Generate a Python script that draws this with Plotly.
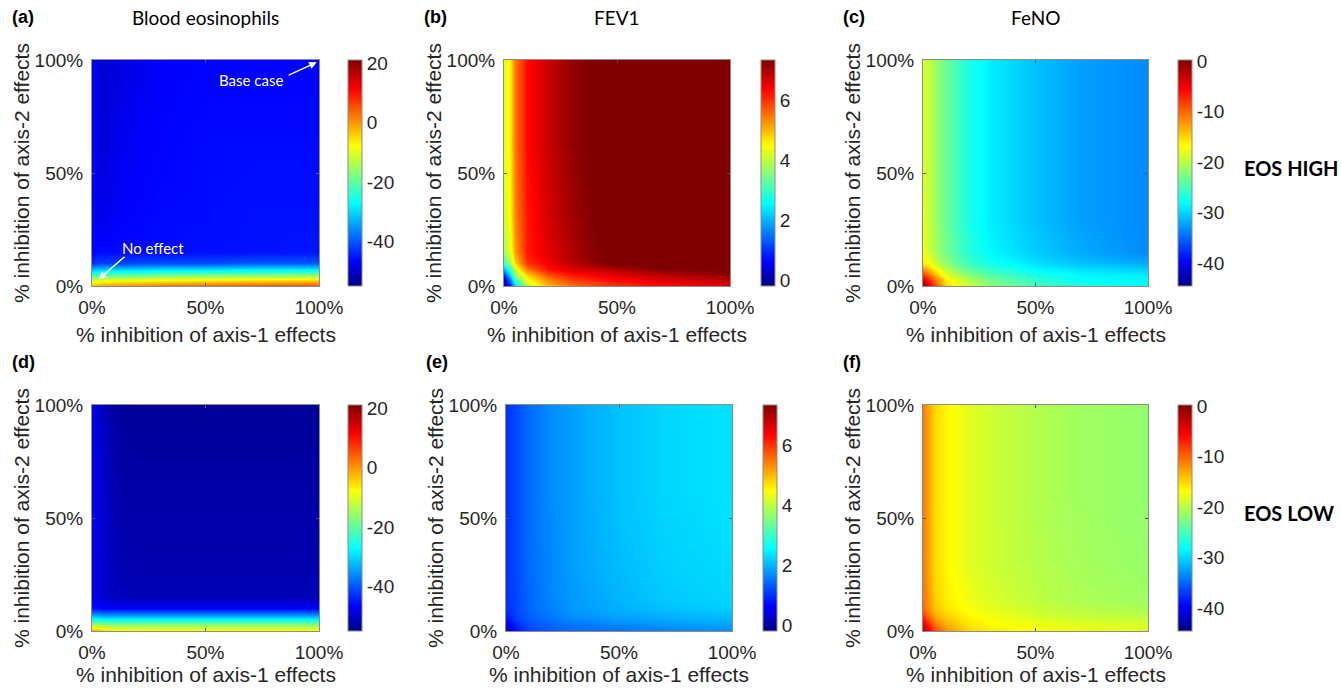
import plotly.graph_objects as go

# ---------------- data ----------------
axis1_pct = [0, 2.5, 5, 10, 20, 30, 50, 70, 100]      # x: % inhibition of axis-1 effects
axis2_pct = [0, 2.5, 5, 7.5, 10, 15, 30, 60, 100]     # y: % inhibition of axis-2 effects
tick_vals = [0, 50, 100]
tick_text = ["0%", "50%", "100%"]

eos_high_blood = [
    [-2, -1, 0, 1, 2, 3, 4, 5, 6],
    [-12, -11, -10, -10, -9, -8, -7, -6, -5],
    [-22, -21, -21, -20, -20, -19, -18, -18, -17],
    [-33, -32, -32, -31, -31, -30, -30, -29, -29],
    [-43, -42, -42, -42, -41, -41, -41, -40, -40],
    [-47, -46, -46, -46, -46, -46, -45.5, -45.5, -45],
    [-47, -48, -48, -47, -46.5, -46, -46, -45.5, -45.5],
    [-47, -48.5, -49, -48, -47, -46.5, -46, -46, -46],
    [-47, -49, -49.5, -49, -48, -47, -46.5, -46.5, -46.5],
]
eos_high_fev1 = [
    [0.0, 0.8, 2.2, 4.0, 5.0, 5.5, 6.0, 6.3, 6.6],
    [0.4, 1.5, 3.0, 4.4, 5.4, 5.9, 6.3, 6.6, 6.9],
    [1.0, 2.3, 3.6, 4.8, 5.8, 6.2, 6.6, 6.9, 7.2],
    [2.0, 3.0, 4.2, 5.5, 6.3, 6.6, 7.0, 7.3, 7.5],
    [3.0, 3.8, 4.8, 6.0, 6.5, 6.9, 7.5, 7.6, 7.6],
    [3.8, 4.3, 5.2, 6.2, 6.6, 7.0, 7.6, 7.6, 7.6],
    [4.1, 4.5, 5.4, 6.2, 6.7, 7.1, 7.6, 7.6, 7.6],
    [4.2, 4.6, 5.5, 6.3, 6.8, 7.2, 7.6, 7.6, 7.6],
    [4.2, 4.6, 5.5, 6.3, 6.8, 7.2, 7.6, 7.6, 7.6],
]
eos_high_feno = [
    [-1, -4, -8, -15, -19, -22, -25, -27, -28],
    [-4, -7, -10, -16, -20, -23, -26, -28, -28.5],
    [-8, -10, -13, -18, -22, -24.5, -27, -28.5, -29],
    [-12, -14, -16, -20, -24, -26, -28.5, -29.5, -30.5],
    [-16, -17, -19, -22, -25.5, -27.5, -29.5, -31, -32],
    [-17.5, -19, -20.5, -23, -26.5, -28.5, -30.5, -32, -33.5],
    [-18, -19.5, -21, -23.5, -27, -29, -31, -32.5, -33.5],
    [-18.5, -19.5, -21, -23.5, -27, -29, -31, -32.5, -33.5],
    [-18.5, -19.5, -21, -23.5, -27, -29, -31, -32.5, -33.5],
]
eos_low_blood = [
    [0, -2, -4, -6, -7, -7, -7, -7, -7],
    [-13, -14, -15, -16, -16, -16, -16, -16, -16],
    [-25, -25, -26, -26, -26, -26, -26, -26, -26],
    [-36, -36, -37, -37, -37, -37, -37, -37, -37],
    [-46, -46, -47, -47, -47, -47, -47, -47, -47],
    [-48, -49, -50, -51, -51.5, -51.5, -51.5, -51.5, -51.5],
    [-48, -49, -50, -51.5, -52, -52, -52, -52, -52],
    [-48, -49, -50, -52, -52.5, -52.5, -52.5, -52.5, -52.5],
    [-48, -49.5, -51, -53, -53.5, -53.5, -53.5, -53.5, -53.5],
]
eos_low_fev1 = [
    [0.1, 0.5, 0.8, 1.1, 1.3, 1.4, 1.5, 1.6, 1.7],
    [0.4, 0.7, 0.95, 1.2, 1.4, 1.5, 1.65, 1.75, 1.85],
    [0.7, 0.9, 1.1, 1.3, 1.5, 1.65, 1.8, 1.9, 2.0],
    [0.9, 1.0, 1.15, 1.35, 1.55, 1.75, 1.9, 2.0, 2.1],
    [1.0, 1.05, 1.2, 1.4, 1.6, 1.8, 1.95, 2.1, 2.2],
    [1.0, 1.1, 1.2, 1.4, 1.65, 1.8, 2.0, 2.15, 2.25],
    [1.0, 1.1, 1.2, 1.45, 1.65, 1.85, 2.05, 2.2, 2.3],
    [1.0, 1.1, 1.2, 1.45, 1.7, 1.85, 2.1, 2.25, 2.35],
    [1.0, 1.1, 1.2, 1.45, 1.7, 1.85, 2.1, 2.25, 2.35],
]
eos_low_feno = [
    [-2, -5, -8, -12, -15, -16, -17, -17.5, -18],
    [-4, -7, -10, -13, -15.5, -16.5, -17.5, -18, -18.5],
    [-6, -9, -11.5, -14, -16, -17, -18, -18.8, -19.3],
    [-8.5, -11, -13, -15, -16.5, -17.5, -18.7, -19.5, -20],
    [-10, -12, -14, -15.7, -17, -18, -19.2, -20, -20.7],
    [-10.5, -12.5, -14.5, -16, -17.5, -18.5, -19.7, -20.5, -21.2],
    [-11, -13, -15, -16.5, -18, -19, -20, -20.8, -21.5],
    [-11, -13, -15, -16.5, -18, -19, -20.2, -21, -21.7],
    [-11, -13, -15, -16.5, -18, -19, -20.2, -21, -21.7],
]

blood_range = [-55, 21]
blood_ticks = [-40, -20, 0, 20]
fev1_range = [-0.2, 7.35]
fev1_ticks = [0, 2, 4, 6]
feno_range = [-44.6, 0.3]
feno_ticks = [-40, -30, -20, -10, 0]

panel_titles = ["Blood eosinophils", "FEV1", "FeNO"]
panel_letters = ["(a)", "(b)", "(c)", "(d)", "(e)", "(f)"]
row_labels = ["EOS HIGH", "EOS LOW"]
x_title = "% inhibition of axis-1 effects"
y_title = "% inhibition of axis-2 effects"

# ---------------- layout helpers ----------------
W, H = 1341, 688
def px(x):
    return x / W
def py(y):
    return 1 - y / H

jet = [[0.0, "rgb(0,0,131)"], [0.11, "rgb(0,0,255)"], [0.365, "rgb(0,255,255)"],
       [0.62, "rgb(255,255,0)"], [0.87, "rgb(255,0,0)"], [1.0, "rgb(128,0,0)"]]

rows = [(60, 286), (405, 631)]
cols_row = [
    [(92, 319), (504, 730), (923, 1148)],
    [(92, 319), (506, 732), (923, 1148)],
]
cbar_left = [[348, 761, 1178], [348, 763, 1178]]

panels = [
    [(eos_high_blood, blood_range, blood_ticks), (eos_high_fev1, fev1_range, fev1_ticks), (eos_high_feno, feno_range, feno_ticks)],
    [(eos_low_blood, blood_range, blood_ticks), (eos_low_fev1, fev1_range, fev1_ticks), (eos_low_feno, feno_range, feno_ticks)],
]

TXT = "#262626"
AX_FONT = dict(family="Liberation Sans, Arial, sans-serif", size=19, color=TXT)

fig = go.Figure()
layout = dict(width=W, height=H, margin=dict(l=0, r=0, t=0, b=0, pad=0, autoexpand=False),
              template="none",
              paper_bgcolor="white", plot_bgcolor="white", showlegend=False)
annotations = []

k = 0
for r in range(2):
    top, bot = rows[r]
    for c in range(3):
        k += 1
        left, right = cols_row[r][c]
        z, zr, zt = panels[r][c]
        xa = "x" if k == 1 else f"x{k}"
        ya = "y" if k == 1 else f"y{k}"
        fig.add_trace(go.Heatmap(
            x=axis1_pct, y=axis2_pct, z=z, zsmooth="best",
            colorscale=jet, zmin=zr[0], zmax=zr[1],
            xaxis=xa, yaxis=ya,
            colorbar=dict(
                x=px(cbar_left[r][c]), xanchor="left", xpad=0,
                y=py((top + bot) / 2), yanchor="middle", ypad=0,
                len=(bot - top) / H, lenmode="fraction", thickness=14,
                outlinewidth=1, outlinecolor="#8c8c8c",
                tickvals=zt, ticktext=[str(v) for v in zt],
                ticks="", tickfont=AX_FONT,
            ),
        ))
        axx = dict(domain=[px(left), px(right)], range=[0, 100], anchor=ya,
                   tickvals=tick_vals, ticktext=tick_text, tickfont=AX_FONT,
                   ticks="inside", ticklen=3, tickcolor="#555", showgrid=False,
                   zeroline=False, showline=True, linecolor="#8c8c8c", linewidth=1,
                   mirror="ticks", ticklabelstandoff=4, automargin=False)
        axy = dict(domain=[py(bot), py(top)], range=[0, 100], anchor=xa,
                   tickvals=tick_vals, ticktext=tick_text, tickfont=AX_FONT,
                   ticks="inside", ticklen=3, tickcolor="#555", showgrid=False,
                   zeroline=False, showline=True, linecolor="#8c8c8c", linewidth=1,
                   mirror="ticks", ticklabelstandoff=4, automargin=False)
        layout["xaxis" if k == 1 else f"xaxis{k}"] = axx
        layout["yaxis" if k == 1 else f"yaxis{k}"] = axy

        # axis titles
        if r == 0:
            xt = dict(y=py(bot + 48), yanchor="middle")
        else:
            xt = dict(y=0, yanchor="bottom")
        annotations.append(dict(text=x_title, xref="paper", yref="paper",
                                x=px((left + right) / 2), showarrow=False,
                                xanchor="center", **xt,
                                font=dict(family="Liberation Sans, Arial, sans-serif", size=21, color=TXT)))
        annotations.append(dict(text=y_title, xref="paper", yref="paper", textangle=-90,
                                x=px(left - 71), y=py((top + bot) / 2), showarrow=False,
                                xanchor="center", yanchor="middle",
                                font=dict(family="Liberation Sans, Arial, sans-serif", size=21, color=TXT)))
        # panel letter
        annotations.append(dict(text="<b>" + panel_letters[k - 1] + "</b>", xref="paper", yref="paper",
                                x=px(left - 82), y=py(top - 43), showarrow=False,
                                xanchor="left", yanchor="middle",
                                font=dict(family="Liberation Sans, Arial, sans-serif", size=18, color="black")))
        if r == 0:
            annotations.append(dict(text=panel_titles[c], xref="paper", yref="paper",
                                    x=px((left + right) / 2), y=py(top - 43), showarrow=False,
                                    xanchor="center", yanchor="middle",
                                    font=dict(family="Lato, Open Sans, sans-serif", size=19, color="black")))
    annotations.append(dict(text="<b>" + row_labels[r] + "</b>", xref="paper", yref="paper",
                            x=px(1242), y=py((top + bot) / 2 - 5), showarrow=False,
                            xanchor="left", yanchor="middle",
                            font=dict(family="Lato, Open Sans, sans-serif", size=20, color="black")))

# in-plot labels of panel (a)
WHITE_FONT = dict(family="Lato, Open Sans, sans-serif", size=15, color="white")
annotations += [
    dict(text="Base case", xref="x", yref="y", x=70, y=91, showarrow=False, font=WHITE_FONT),
    dict(text="", xref="x", yref="y", axref="x", ayref="y", x=99, y=99, ax=86, ay=93,
         showarrow=True, arrowhead=2, arrowsize=1, arrowwidth=1.5, arrowcolor="white"),
    dict(text="No effect", xref="x", yref="y", x=27, y=17, showarrow=False, font=WHITE_FONT),
    dict(text="", xref="x", yref="y", axref="x", ayref="y", x=3, y=3, ax=15, ay=13.5,
         showarrow=True, arrowhead=2, arrowsize=1, arrowwidth=1.5, arrowcolor="white"),
]
layout["annotations"] = annotations
fig.update_layout(**layout)
# remove the browser's default 8px body margin so the figure fills the window
fig.write_html("out.html", config={"displayModeBar": False},
               post_script="document.body.style.margin='0px';document.body.style.overflow='hidden';")
